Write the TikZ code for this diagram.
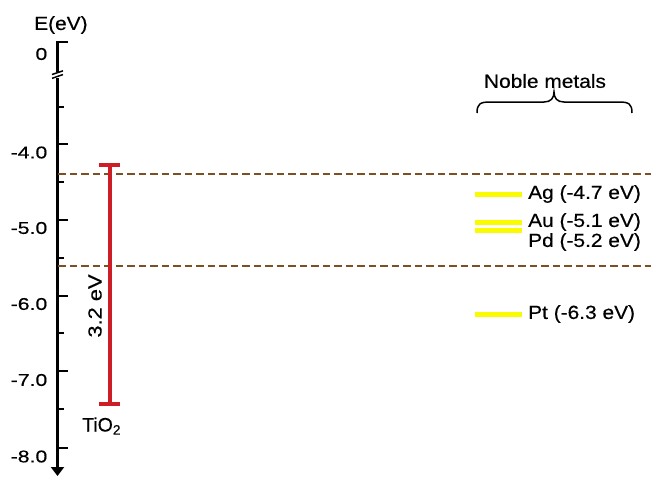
\documentclass[tikz,border=0pt]{standalone}
\usepackage{fontspec}
\setmainfont{Liberation Sans}[FakeBold=0.4]
\newfontfamily\lab{Liberation Sans}[FakeStretch=1.1,FakeBold=0.4]
\newfontfamily\labw{Liberation Sans}[FakeStretch=1.25,FakeBold=0.4]
\newfontfamily\labv{Liberation Sans}[FakeStretch=1.15,FakeBold=0.4]
\usetikzlibrary{arrows.meta}
\definecolor{gapred}{RGB}{205,30,40}
\definecolor{dashbrown}{RGB}{125,80,35}
\definecolor{metalyellow}{RGB}{250,250,0}
\begin{document}
\begin{tikzpicture}[x=1pt,y=-1pt,
  axisline/.style={line width=2.5pt,black},
  majortick/.style={line width=2.5pt,black},
  minortick/.style={line width=2.5pt,black},
  ticklabel/.style={anchor=east,inner sep=0pt,font=\labw\fontsize{17}{19}\selectfont},
  metalbar/.style={line width=5pt,metalyellow},
  metallabel/.style={anchor=west,inner sep=0pt,font=\lab\fontsize{19}{21}\selectfont},
  bandline/.style={line width=2pt,dashbrown,dash pattern=on 7.5pt off 4pt},
  gapbar/.style={line width=4pt,gapred}]
\useasboundingbox (0,0) rectangle (651,477);
% axis
\coordinate (top) at (57.5,42);
\coordinate (brk1) at (57.5,72);
\coordinate (brk2) at (57.5,78);
\coordinate (bot) at (57.5,476);
\draw[axisline] (68,42) -- (top) -- (brk1);
\draw[line width=1.5pt] (52,74.5) -- (63,70.8);
\draw[line width=1.5pt] (52,78.3) -- (63,74.6);
\draw[axisline,-{Triangle[width=13pt,length=9pt]}] (brk2) -- (bot);
% ticks
\foreach \y in {144,220,296,371,448} \draw[majortick] (57.5,\y) -- (68,\y);
\foreach \y in {107,182,258,333,409} \draw[minortick] (57.5,\y) -- (64,\y);
% labels
\node[anchor=west,inner sep=0pt,font=\lab\fontsize{19}{21}\selectfont] (E) at (34,25) {E(eV)};
\node[ticklabel] (l0) at (47.5,54) {0};
\node[ticklabel] (l4) at (47.5,152.5) {-4.0};
\node[ticklabel] (l5) at (47.5,228) {-5.0};
\node[ticklabel] (l6) at (47.5,304) {-6.0};
\node[ticklabel] (l7) at (47.5,380) {-7.0};
\node[ticklabel] (l8) at (47.5,456.5) {-8.0};
% dashed band lines
\coordinate (d1a) at (58,174); \coordinate (d1b) at (651,174);
\coordinate (d2a) at (58,266); \coordinate (d2b) at (651,266);
\draw[bandline] (d1a) -- (d1b);
\draw[bandline] (d2a) -- (d2b);
% TiO2 gap
\coordinate (cb) at (109.5,165);
\coordinate (vb) at (109.5,404);
\draw[gapbar] (cb) -- (vb);
\draw[gapbar] (99,165) -- (120,165);
\draw[gapbar] (99,404) -- (120,404);
\node[rotate=90,inner sep=0pt,font=\labv\fontsize{19}{21}\selectfont] (gap) at (95,306) {3.2 eV};
\node[anchor=west,inner sep=0pt,font=\fontsize{19.5}{22}\selectfont] (tio2) at (82,426) {TiO\textsubscript{2}};
% noble metals
\node[inner sep=0pt,font=\lab\fontsize{19}{21}\selectfont] (noble) at (545,81) {Noble metals};
\draw[line width=1.5pt] (477,113) .. controls (477,104) and (480,102) .. (490,102)
  -- (544,102) .. controls (551,102) and (554,98) .. (554,92)
  .. controls (554,98) and (557,102) .. (564,102) -- (619,102)
  .. controls (629,102) and (632,104) .. (632,113);
\draw[metalbar] (475,194.5) -- (522,194.5);
\draw[metalbar] (475,222.7) -- (522,222.7);
\draw[metalbar] (475,230.8) -- (522,230.8);
\draw[metalbar] (475,314.7) -- (522,314.7);
\node[metallabel] (ag) at (528,194) {Ag (-4.7 eV)};
\node[metallabel] (au) at (528,222) {Au (-5.1 eV)};
\node[metallabel] (pd) at (528,242) {Pd (-5.2 eV)};
\node[metallabel] (pt) at (528,314) {Pt (-6.3 eV)};
\end{tikzpicture}
\end{document}
